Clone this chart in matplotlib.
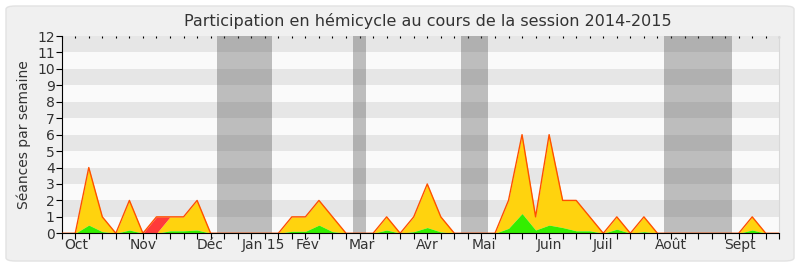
import numpy as np
import matplotlib
matplotlib.use("Agg")
import matplotlib.pyplot as plt
from matplotlib.patches import FancyBboxPatch

# weekly values, week 0 = end of Sept 2014
weeks = list(range(54))
total = [0, 0, 4, 1, 0, 2, 0, 1, 1, 1, 2, 0, 0, 0, 0, 0,
         0, 1, 1, 2, 1, 0, 0, 0, 1, 0, 1, 3, 1, 0, 0, 0,
         0, 2, 6, 1, 6, 2, 2, 1, 0, 1, 0, 1, 0, 0, 0, 0,
         0, 0, 0, 1, 0, 0]
green = [0, 0, 0.5, 0.1, 0, 0.2, 0, 0, 0.15, 0.15, 0.2, 0, 0, 0, 0, 0,
         0, 0.12, 0.12, 0.5, 0.1, 0, 0, 0, 0.2, 0, 0.1, 0.35, 0.08, 0, 0, 0,
         0, 0.3, 1.2, 0.2, 0.5, 0.35, 0.15, 0.15, 0, 0.25, 0, 0.1, 0, 0, 0, 0,
         0, 0, 0, 0.2, 0, 0]
red = [0] * 54
red[7] = 1

vacances = [(11.5, 15.5), (21.5, 22.5), (29.5, 31.5), (44.5, 49.5)]

mois = ["Oct", "Nov", "Déc", "Jan 15", "Fév", "Mar", "Avr", "Mai",
        "Juin", "Juil", "Août", "Sept"]
mois_pos = [1.1, 6.0, 10.95, 14.9, 18.15, 22.15, 27.0, 31.2,
            36.0, 40.0, 45.0, 50.1]


def main():
    x = np.array(weeks)
    tot = np.array(total, dtype=float)
    g = np.array(green)
    r = np.array(red, dtype=float)

    fig = plt.figure(figsize=(8, 2.67), dpi=100)
    fig.patch.set_facecolor("white")
    box = FancyBboxPatch((6 / 800, 6 / 267), 788 / 800, 255 / 267,
                         boxstyle="round,pad=0,rounding_size=0.012",
                         transform=fig.transFigure, facecolor="#f0f0f0",
                         edgecolor="#e2e2e2", linewidth=1, zorder=-10)
    fig.patches.append(box)

    ax = fig.add_axes([61.7 / 800, 1 - 233.3 / 267, 717.6 / 800, 197.3 / 267])
    ax.set_facecolor("#fafafa")

    # stripes
    for k in range(1, 12, 2):
        ax.axhspan(k, k + 1, color="#e6e6e6", lw=0, zorder=0)
    for a, b in vacances:
        ax.axvspan(a, b, color="#4c4c4c", alpha=0.35, lw=0, zorder=1)

    ax.fill_between(x, 0, g, color="#33ee00", lw=0, zorder=3)
    ax.fill_between(x, g, tot - r, color="#ffd30e", lw=0, zorder=2)
    ax.fill_between(x, tot - r, tot, color="#ff3a3a", lw=0, zorder=2)
    ax.plot(x, tot, color="#ff5000", lw=1.0, zorder=4)

    ax.set_xlim(0, 53)
    ax.set_ylim(0, 12)

    ax.set_yticks(range(13))
    ax.tick_params(axis="y", length=4, labelsize=10, labelcolor="#333333",
                   color="black", pad=1)

    ax.set_xticks(weeks)
    ax.set_xticklabels([])
    ax.tick_params(axis="x", length=4, color="black")
    # month labels
    for m, p in zip(mois, mois_pos):
        ax.text(p, -0.022, m, transform=ax.get_xaxis_transform(),
                ha="center", va="top", fontsize=10, color="#333333")

    top = ax.secondary_xaxis("top")
    top.set_xticks(weeks)
    top.set_xticklabels([])
    top.tick_params(direction="in", length=1.5, width=0.8, color="black")
    top.spines["top"].set_visible(False)

    ax.spines["top"].set_visible(False)
    ax.spines["right"].set_color("#d8d8d8")
    ax.spines["left"].set_color("black")
    ax.spines["bottom"].set_color("black")
    ax.spines["bottom"].set_zorder(5)

    ax.set_ylabel("Séances par semaine", fontsize=10, color="#333333",
                  labelpad=4)
    fig.text(428 / 800, 0.923, "Participation en hémicycle au cours de la "
             "session 2014-2015", ha="center", va="center", fontsize=11.5,
             color="#333333")

    fig.savefig("out.png", dpi=100)


if __name__ == "__main__":
    main()
